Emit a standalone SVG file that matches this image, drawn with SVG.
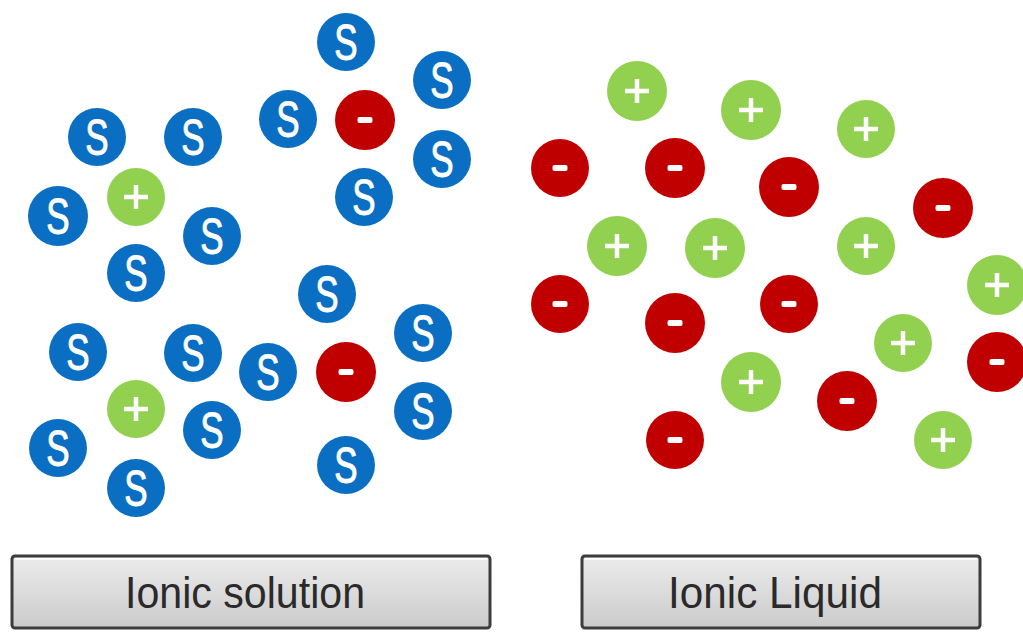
<svg xmlns="http://www.w3.org/2000/svg" xmlns:xlink="http://www.w3.org/1999/xlink" width="1023" height="632" viewBox="0 0 1023 632">
<defs>
<linearGradient id="btn" x1="0" y1="0" x2="0" y2="1">
<stop offset="0" stop-color="#ececec"/>
<stop offset="1" stop-color="#cbcbcb"/>
</linearGradient>
</defs>
<style>
.sv{fill:#0a6fc2}
.cat{fill:#92d050}
.an{fill:#c00000}
.st{fill:#ffffff;stroke:#ffffff;stroke-width:1;font-family:"Liberation Sans",Arial,sans-serif;font-size:50px;text-anchor:middle}
.pl{stroke:#ffffff;stroke-width:4.5;fill:none}
.mi{fill:#ffffff}
.bx{fill:url(#btn);stroke:#3c3c3c;stroke-width:3}
.bl{font-family:"Liberation Sans",Arial,sans-serif;font-size:44px;fill:#2a2a2a;text-anchor:middle}
</style>
<rect width="1023" height="632" fill="#ffffff"/>

<!-- Ionic solution: solvent molecules -->
<g id="s1" transform="translate(346,42)"><circle class="sv" r="29"/><text class="st" y="18" transform="scale(0.7,1)">S</text></g>
<g id="s2" transform="translate(442,80)"><circle class="sv" r="29"/><text class="st" y="18" transform="scale(0.7,1)">S</text></g>
<g id="s3" transform="translate(288,119)"><circle class="sv" r="29"/><text class="st" y="18" transform="scale(0.7,1)">S</text></g>
<g id="s4" transform="translate(442,159)"><circle class="sv" r="29"/><text class="st" y="18" transform="scale(0.7,1)">S</text></g>
<g id="s5" transform="translate(364,197)"><circle class="sv" r="29"/><text class="st" y="18" transform="scale(0.7,1)">S</text></g>
<g id="s6" transform="translate(97,137)"><circle class="sv" r="29"/><text class="st" y="18" transform="scale(0.7,1)">S</text></g>
<g id="s7" transform="translate(193,137)"><circle class="sv" r="29"/><text class="st" y="18" transform="scale(0.7,1)">S</text></g>
<g id="s8" transform="translate(58,216)"><circle class="sv" r="30"/><text class="st" y="18" transform="scale(0.7,1)">S</text></g>
<g id="s9" transform="translate(212,236)"><circle class="sv" r="29"/><text class="st" y="18" transform="scale(0.7,1)">S</text></g>
<g id="s10" transform="translate(136,273)"><circle class="sv" r="29"/><text class="st" y="18" transform="scale(0.7,1)">S</text></g>
<g id="s11" transform="translate(327,294)"><circle class="sv" r="29"/><text class="st" y="18" transform="scale(0.7,1)">S</text></g>
<g id="s12" transform="translate(423,333)"><circle class="sv" r="29"/><text class="st" y="18" transform="scale(0.7,1)">S</text></g>
<g id="s13" transform="translate(78,352)"><circle class="sv" r="29"/><text class="st" y="18" transform="scale(0.7,1)">S</text></g>
<g id="s14" transform="translate(193,353)"><circle class="sv" r="29"/><text class="st" y="18" transform="scale(0.7,1)">S</text></g>
<g id="s15" transform="translate(268,372)"><circle class="sv" r="29"/><text class="st" y="18" transform="scale(0.7,1)">S</text></g>
<g id="s16" transform="translate(212,430)"><circle class="sv" r="29"/><text class="st" y="18" transform="scale(0.7,1)">S</text></g>
<g id="s17" transform="translate(423,411)"><circle class="sv" r="29"/><text class="st" y="18" transform="scale(0.7,1)">S</text></g>
<g id="s18" transform="translate(58,448)"><circle class="sv" r="29"/><text class="st" y="18" transform="scale(0.7,1)">S</text></g>
<g id="s19" transform="translate(136,488)"><circle class="sv" r="29"/><text class="st" y="18" transform="scale(0.7,1)">S</text></g>
<g id="s20" transform="translate(346,465)"><circle class="sv" r="29"/><text class="st" y="18" transform="scale(0.7,1)">S</text></g>

<!-- Ionic solution: ions -->
<g id="sc1" transform="translate(136,197)"><circle class="cat" r="29"/><path class="pl" d="M-12,0H12M0,-12V12"/></g>
<g id="sa1" transform="translate(365,120)"><circle class="an" r="30"/><rect class="mi" x="-7.5" y="-3" width="15" height="6" rx="2"/></g>
<g id="sc2" transform="translate(136,409)"><circle class="cat" r="29"/><path class="pl" d="M-12,0H12M0,-12V12"/></g>
<g id="sa2" transform="translate(346,372)"><circle class="an" r="30"/><rect class="mi" x="-7.5" y="-3" width="15" height="6" rx="2"/></g>

<!-- Ionic liquid -->
<g id="lc1" transform="translate(637,91)"><circle class="cat" r="30"/><path class="pl" d="M-12,0H12M0,-12V12"/></g>
<g id="lc2" transform="translate(751,110)"><circle class="cat" r="30"/><path class="pl" d="M-12,0H12M0,-12V12"/></g>
<g id="lc3" transform="translate(866,129)"><circle class="cat" r="29"/><path class="pl" d="M-12,0H12M0,-12V12"/></g>
<g id="la1" transform="translate(560,168)"><circle class="an" r="29"/><rect class="mi" x="-7.5" y="-3" width="15" height="6" rx="2"/></g>
<g id="la2" transform="translate(675,168)"><circle class="an" r="30"/><rect class="mi" x="-7.5" y="-3" width="15" height="6" rx="2"/></g>
<g id="la3" transform="translate(789,187)"><circle class="an" r="30"/><rect class="mi" x="-7.5" y="-3" width="15" height="6" rx="2"/></g>
<g id="la4" transform="translate(943,208)"><circle class="an" r="30"/><rect class="mi" x="-7.5" y="-3" width="15" height="6" rx="2"/></g>
<g id="lc4" transform="translate(617,246)"><circle class="cat" r="30"/><path class="pl" d="M-12,0H12M0,-12V12"/></g>
<g id="lc5" transform="translate(715,248)"><circle class="cat" r="30"/><path class="pl" d="M-12,0H12M0,-12V12"/></g>
<g id="lc6" transform="translate(866,246)"><circle class="cat" r="29"/><path class="pl" d="M-12,0H12M0,-12V12"/></g>
<g id="lc7" transform="translate(997,285)"><circle class="cat" r="30"/><path class="pl" d="M-12,0H12M0,-12V12"/></g>
<g id="la5" transform="translate(560,304)"><circle class="an" r="29"/><rect class="mi" x="-7.5" y="-3" width="15" height="6" rx="2"/></g>
<g id="la6" transform="translate(675,323)"><circle class="an" r="30"/><rect class="mi" x="-7.5" y="-3" width="15" height="6" rx="2"/></g>
<g id="la7" transform="translate(789,304)"><circle class="an" r="29"/><rect class="mi" x="-7.5" y="-3" width="15" height="6" rx="2"/></g>
<g id="lc8" transform="translate(903,343)"><circle class="cat" r="29"/><path class="pl" d="M-12,0H12M0,-12V12"/></g>
<g id="la8" transform="translate(997,362)"><circle class="an" r="30"/><rect class="mi" x="-7.5" y="-3" width="15" height="6" rx="2"/></g>
<g id="lc9" transform="translate(751,382)"><circle class="cat" r="30"/><path class="pl" d="M-12,0H12M0,-12V12"/></g>
<g id="la9" transform="translate(847,401)"><circle class="an" r="30"/><rect class="mi" x="-7.5" y="-3" width="15" height="6" rx="2"/></g>
<g id="lc10" transform="translate(943,440)"><circle class="cat" r="29"/><path class="pl" d="M-12,0H12M0,-12V12"/></g>
<g id="la10" transform="translate(675,440)"><circle class="an" r="29"/><rect class="mi" x="-7.5" y="-3" width="15" height="6" rx="2"/></g>

<!-- Labels -->
<g id="btn-solution">
<rect class="bx" x="12" y="556" width="478" height="72" rx="3"/>
<path d="M15,559H487" stroke="#ffffff" stroke-width="1.5"/>
<text class="bl" x="245" y="608" textLength="240" lengthAdjust="spacingAndGlyphs">Ionic solution</text>
</g>
<g id="btn-liquid">
<rect class="bx" x="582" y="556" width="398" height="72" rx="3"/>
<path d="M585,559H977" stroke="#ffffff" stroke-width="1.5"/>
<text class="bl" x="775" y="608" textLength="214" lengthAdjust="spacingAndGlyphs">Ionic Liquid</text>
</g>
<g id="connectors"/>
</svg>
